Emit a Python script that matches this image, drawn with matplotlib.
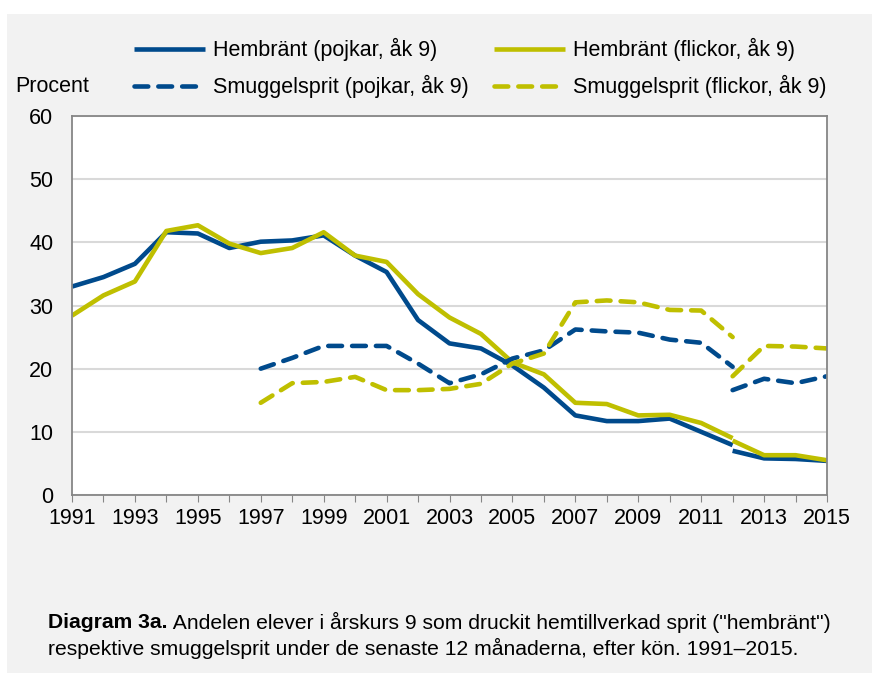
import matplotlib.pyplot as plt
from matplotlib.patches import Rectangle

plt.rcParams['font.family'] = ['Liberation Sans', 'DejaVu Sans']

# hembränt / smuggelsprit, andel (%) elever i åk 9
years = list(range(1991, 2013))
hem_pojkar = [33.0, 34.5, 36.6, 41.6, 41.4, 39.1, 40.1, 40.3, 41.1, 37.9, 35.3,
              27.7, 24.0, 23.2, 20.5, 17.0, 12.6, 11.7, 11.7, 12.1, 10.0, 7.9]
hem_flickor = [28.4, 31.6, 33.8, 41.8, 42.7, 39.8, 38.3, 39.1, 41.6, 37.9, 36.9,
               31.8, 28.1, 25.5, 21.0, 19.1, 14.6, 14.4, 12.6, 12.7, 11.4, 9.0]

smug_years = list(range(1997, 2013))
smug_pojkar = [20.0, 21.7, 23.6, 23.6, 23.6, 20.8, 17.7, 19.1, 21.6, 22.9,
               26.2, 25.9, 25.7, 24.6, 24.1, 20.3]
smug_flickor = [14.6, 17.7, 17.9, 18.7, 16.6, 16.6, 16.8, 17.6, 20.8, 22.4,
                30.5, 30.8, 30.5, 29.3, 29.2, 25.0]

# ny metod från 2012
new_years = [2012, 2013, 2014, 2015]
hem_pojkar_new = [7.0, 5.8, 5.7, 5.4]
hem_flickor_new = [8.6, 6.3, 6.3, 5.5]
smug_pojkar_new = [16.6, 18.4, 17.7, 18.8]
smug_flickor_new = [18.8, 23.6, 23.5, 23.2]

blue = '#004a8c'
yellow = '#bfbf00'
lw = 3.3
dash = (3, 2.2)
fs = 15.5

fig = plt.figure(figsize=(8.72, 6.75), dpi=100, facecolor='white')
fig.patches.append(Rectangle((7 / 872, 2 / 675), 865 / 872, 659 / 675,
                             transform=fig.transFigure, facecolor='#f2f2f2',
                             edgecolor='none', zorder=-10))

ax = fig.add_axes([72 / 872, 1 - 495 / 675, 755 / 872, 379 / 675])
ax.set_zorder(1)
ax.set_facecolor('white')

solid = dict(lw=lw, solid_joinstyle='round', solid_capstyle='butt')
dashed = dict(lw=lw, dashes=dash, dash_capstyle='round', dash_joinstyle='round')

l1, = ax.plot(years, hem_pojkar, color=blue, **solid)
l3, = ax.plot(years, hem_flickor, color=yellow, **solid)
l2, = ax.plot(smug_years, smug_pojkar, color=blue, **dashed)
l4, = ax.plot(smug_years, smug_flickor, color=yellow, **dashed)
ax.plot(new_years, hem_pojkar_new, color=blue, **solid)
ax.plot(new_years, hem_flickor_new, color=yellow, **solid)
ax.plot(new_years, smug_pojkar_new, color=blue, **dashed)
ax.plot(new_years, smug_flickor_new, color=yellow, **dashed)

ax.set_xlim(1991, 2015)
ax.set_ylim(0, 60)
ax.set_yticks(range(0, 61, 10))
ax.set_xticks(range(1991, 2016))
ax.set_xticklabels([str(y) if (y - 1991) % 2 == 0 else '' for y in range(1991, 2016)])
ax.tick_params(axis='x', direction='out', length=5, color='#868686', labelsize=fs, pad=4)
ax.tick_params(axis='y', length=0, labelsize=fs, pad=13.5)
ax.grid(axis='y', color='#d9d9d9', lw=1.5)
ax.set_axisbelow(True)
for s in ax.spines.values():
    s.set_color('#868686')
    s.set_linewidth(1.3)

fig.text(15 / 872, 1 - 86 / 675, 'Procent', fontsize=fs, va='center', ha='left')

leg = fig.legend([l1, l2, l3, l4],
                 ['Hembränt (pojkar, åk 9)', 'Smuggelsprit (pojkar, åk 9)',
                  'Hembränt (flickor, åk 9)', 'Smuggelsprit (flickor, åk 9)'],
                 ncol=2, loc='upper left', bbox_to_anchor=(134 / 872, 1 - 38 / 675),
                 frameon=False, fontsize=fs, handlelength=3.3, handletextpad=0.35,
                 columnspacing=1.2, labelspacing=0.65, borderaxespad=0, borderpad=0)

cap_fs = 15.2
bold = fig.text(48 / 872, 1 - 622 / 675, 'Diagram 3a.', fontsize=cap_fs,
                weight='bold', va='center', ha='left')
fig.canvas.draw()
bb = bold.get_window_extent().transformed(fig.transFigure.inverted())
fig.text(bb.x1, 1 - 622 / 675,
         ' Andelen elever i årskurs 9 som druckit hemtillverkad sprit ("hembränt")',
         fontsize=cap_fs, va='center', ha='left')
fig.text(48 / 872, 1 - 648 / 675,
         'respektive smuggelsprit under de senaste 12 månaderna, efter kön. 1991–2015.',
         fontsize=cap_fs, va='center', ha='left')

fig.savefig('out.png', dpi=100, facecolor='white')
